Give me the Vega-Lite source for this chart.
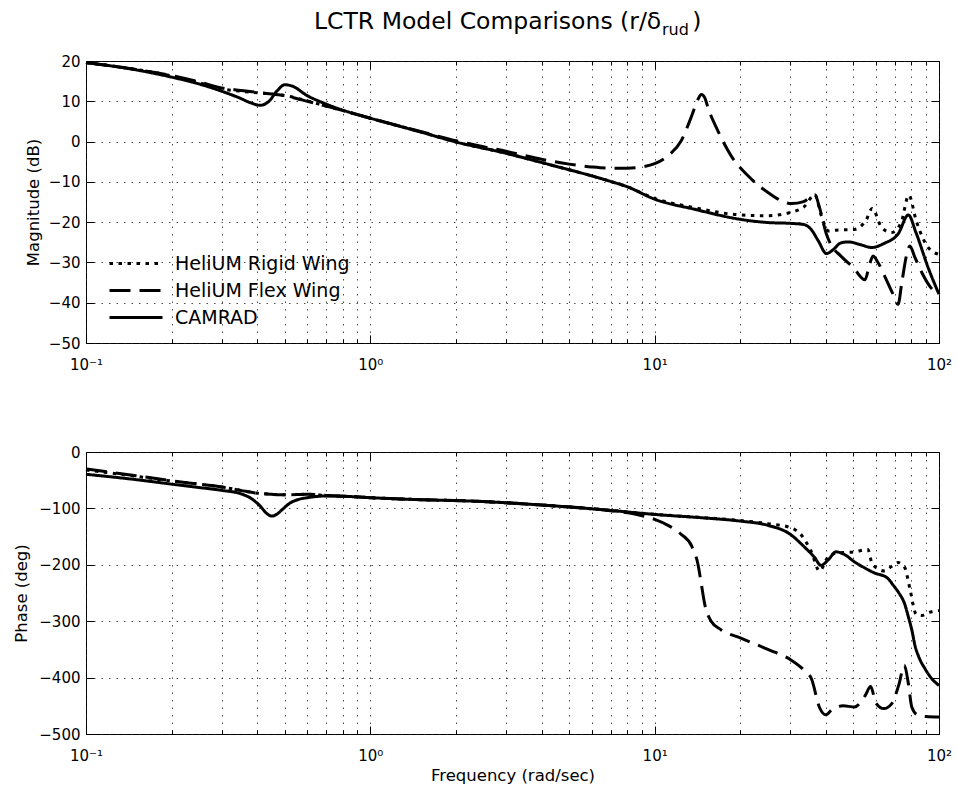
{
  "$schema": "https://vega.github.io/schema/vega-lite/v6.json",
  "padding": {"left": 13, "top": 9, "right": 0, "bottom": 0},
  "background": "white",
  "config": {
    "font": "DejaVu Sans",
    "view": {"stroke": "black", "strokeWidth": 1},
    "axis": {
      "domain": false,
      "labelFont": "DejaVu Sans",
      "labelFontSize": 15,
      "labelColor": "black",
      "titleFont": "DejaVu Sans",
      "titleFontSize": 16.5,
      "titleFontWeight": "normal",
      "titleColor": "black",
      "tickColor": "black",
      "tickWidth": 1,
      "gridColor": "#222222",
      "gridOpacity": 0.8,
      "gridWidth": 1,
      "gridDash": [1.5, 6]
    },
    "title": {"font": "DejaVu Sans", "fontWeight": "normal", "color": "black"}
  },
  "title": {"text": ")", "fontSize": 23.5, "anchor": "start", "frame": "bounds", "dx": 679, "baseline": "alphabetic", "offset": -43},
  "datasets": {
    "mag": [
      {"s": "CAMRAD", "f": 0.1, "v": 19.6}, {"s": "CAMRAD", "f": 0.15, "v": 17.8}, {"s": "CAMRAD", "f": 0.2, "v": 16.0}, {"s": "CAMRAD", "f": 0.25, "v": 14.3}, {"s": "CAMRAD", "f": 0.3, "v": 12.5}, {"s": "CAMRAD", "f": 0.35, "v": 10.7}, {"s": "CAMRAD", "f": 0.38, "v": 9.6}, {"s": "CAMRAD", "f": 0.41, "v": 9.0}, {"s": "CAMRAD", "f": 0.44, "v": 10.0}, {"s": "CAMRAD", "f": 0.47, "v": 12.6}, {"s": "CAMRAD", "f": 0.5, "v": 14.1}, {"s": "CAMRAD", "f": 0.53, "v": 13.8}, {"s": "CAMRAD", "f": 0.6, "v": 11.4}, {"s": "CAMRAD", "f": 0.7, "v": 9.3}, {"s": "CAMRAD", "f": 0.8, "v": 7.8}, {"s": "CAMRAD", "f": 1, "v": 5.8}, {"s": "CAMRAD", "f": 1.5, "v": 2.4}, {"s": "CAMRAD", "f": 2, "v": -0.1}, {"s": "CAMRAD", "f": 3, "v": -2.9}, {"s": "CAMRAD", "f": 4, "v": -5.2}, {"s": "CAMRAD", "f": 5, "v": -7.0}, {"s": "CAMRAD", "f": 6, "v": -8.5}, {"s": "CAMRAD", "f": 7, "v": -9.9}, {"s": "CAMRAD", "f": 8, "v": -11.2}, {"s": "CAMRAD", "f": 10, "v": -14.3}, {"s": "CAMRAD", "f": 13.8, "v": -16.8}, {"s": "CAMRAD", "f": 20, "v": -19.3}, {"s": "CAMRAD", "f": 25, "v": -20.1}, {"s": "CAMRAD", "f": 30, "v": -20.3}, {"s": "CAMRAD", "f": 33.5, "v": -20.6}, {"s": "CAMRAD", "f": 35.5, "v": -21.8}, {"s": "CAMRAD", "f": 37.6, "v": -24.6}, {"s": "CAMRAD", "f": 40.2, "v": -27.8}, {"s": "CAMRAD", "f": 42.5, "v": -26.8}, {"s": "CAMRAD", "f": 45, "v": -25.2}, {"s": "CAMRAD", "f": 48, "v": -24.9}, {"s": "CAMRAD", "f": 53, "v": -25.6}, {"s": "CAMRAD", "f": 58, "v": -26.3}, {"s": "CAMRAD", "f": 64, "v": -25.3}, {"s": "CAMRAD", "f": 72, "v": -22.8}, {"s": "CAMRAD", "f": 78, "v": -18.2}, {"s": "CAMRAD", "f": 83, "v": -22.6}, {"s": "CAMRAD", "f": 91.6, "v": -31.3}, {"s": "CAMRAD", "f": 100, "v": -37.9},
      {"s": "HeliUM Rigid Wing", "f": 0.1, "v": 19.6}, {"s": "HeliUM Rigid Wing", "f": 0.15, "v": 17.9}, {"s": "HeliUM Rigid Wing", "f": 0.2, "v": 16.3}, {"s": "HeliUM Rigid Wing", "f": 0.25, "v": 14.6}, {"s": "HeliUM Rigid Wing", "f": 0.3, "v": 13.1}, {"s": "HeliUM Rigid Wing", "f": 0.35, "v": 12.5}, {"s": "HeliUM Rigid Wing", "f": 0.4, "v": 12.1}, {"s": "HeliUM Rigid Wing", "f": 0.45, "v": 11.8}, {"s": "HeliUM Rigid Wing", "f": 0.5, "v": 11.4}, {"s": "HeliUM Rigid Wing", "f": 0.55, "v": 10.8}, {"s": "HeliUM Rigid Wing", "f": 0.6, "v": 10.1}, {"s": "HeliUM Rigid Wing", "f": 0.7, "v": 8.8}, {"s": "HeliUM Rigid Wing", "f": 0.8, "v": 7.7}, {"s": "HeliUM Rigid Wing", "f": 1, "v": 5.8}, {"s": "HeliUM Rigid Wing", "f": 1.5, "v": 2.4}, {"s": "HeliUM Rigid Wing", "f": 2, "v": -0.1}, {"s": "HeliUM Rigid Wing", "f": 3, "v": -2.9}, {"s": "HeliUM Rigid Wing", "f": 4, "v": -5.2}, {"s": "HeliUM Rigid Wing", "f": 5, "v": -7.0}, {"s": "HeliUM Rigid Wing", "f": 6, "v": -8.5}, {"s": "HeliUM Rigid Wing", "f": 7, "v": -9.9}, {"s": "HeliUM Rigid Wing", "f": 8, "v": -11.2}, {"s": "HeliUM Rigid Wing", "f": 10, "v": -14.1}, {"s": "HeliUM Rigid Wing", "f": 13.8, "v": -16.4}, {"s": "HeliUM Rigid Wing", "f": 20, "v": -18.2}, {"s": "HeliUM Rigid Wing", "f": 25, "v": -18.4}, {"s": "HeliUM Rigid Wing", "f": 30, "v": -17.6}, {"s": "HeliUM Rigid Wing", "f": 33.5, "v": -16.2}, {"s": "HeliUM Rigid Wing", "f": 36.6, "v": -13.2}, {"s": "HeliUM Rigid Wing", "f": 38.4, "v": -18.0}, {"s": "HeliUM Rigid Wing", "f": 40.9, "v": -22.2}, {"s": "HeliUM Rigid Wing", "f": 43.4, "v": -22.0}, {"s": "HeliUM Rigid Wing", "f": 50.5, "v": -21.8}, {"s": "HeliUM Rigid Wing", "f": 55.6, "v": -19.3}, {"s": "HeliUM Rigid Wing", "f": 58.2, "v": -16.6}, {"s": "HeliUM Rigid Wing", "f": 62.8, "v": -21.3}, {"s": "HeliUM Rigid Wing", "f": 68, "v": -22.6}, {"s": "HeliUM Rigid Wing", "f": 73.6, "v": -20.1}, {"s": "HeliUM Rigid Wing", "f": 78.3, "v": -13.3}, {"s": "HeliUM Rigid Wing", "f": 83.2, "v": -19.7}, {"s": "HeliUM Rigid Wing", "f": 91.6, "v": -26.3}, {"s": "HeliUM Rigid Wing", "f": 100, "v": -28.0},
      {"s": "HeliUM Flex Wing", "f": 0.1, "v": 19.6}, {"s": "HeliUM Flex Wing", "f": 0.15, "v": 17.9}, {"s": "HeliUM Flex Wing", "f": 0.2, "v": 16.4}, {"s": "HeliUM Flex Wing", "f": 0.25, "v": 14.8}, {"s": "HeliUM Flex Wing", "f": 0.3, "v": 13.3}, {"s": "HeliUM Flex Wing", "f": 0.35, "v": 12.7}, {"s": "HeliUM Flex Wing", "f": 0.4, "v": 12.2}, {"s": "HeliUM Flex Wing", "f": 0.45, "v": 11.8}, {"s": "HeliUM Flex Wing", "f": 0.5, "v": 11.4}, {"s": "HeliUM Flex Wing", "f": 0.55, "v": 10.7}, {"s": "HeliUM Flex Wing", "f": 0.6, "v": 10.0}, {"s": "HeliUM Flex Wing", "f": 0.7, "v": 8.8}, {"s": "HeliUM Flex Wing", "f": 0.8, "v": 7.7}, {"s": "HeliUM Flex Wing", "f": 1, "v": 5.8}, {"s": "HeliUM Flex Wing", "f": 1.5, "v": 2.5}, {"s": "HeliUM Flex Wing", "f": 2, "v": 0.2}, {"s": "HeliUM Flex Wing", "f": 2.5, "v": -1.3}, {"s": "HeliUM Flex Wing", "f": 3, "v": -2.4}, {"s": "HeliUM Flex Wing", "f": 4, "v": -4.4}, {"s": "HeliUM Flex Wing", "f": 5, "v": -5.6}, {"s": "HeliUM Flex Wing", "f": 6, "v": -6.3}, {"s": "HeliUM Flex Wing", "f": 7, "v": -6.6}, {"s": "HeliUM Flex Wing", "f": 8, "v": -6.6}, {"s": "HeliUM Flex Wing", "f": 9, "v": -6.3}, {"s": "HeliUM Flex Wing", "f": 10, "v": -5.5}, {"s": "HeliUM Flex Wing", "f": 11.1, "v": -3.6}, {"s": "HeliUM Flex Wing", "f": 12.4, "v": 0.2}, {"s": "HeliUM Flex Wing", "f": 13.5, "v": 6.4}, {"s": "HeliUM Flex Wing", "f": 14.2, "v": 10.5}, {"s": "HeliUM Flex Wing", "f": 14.6, "v": 11.7}, {"s": "HeliUM Flex Wing", "f": 15.0, "v": 10.9}, {"s": "HeliUM Flex Wing", "f": 15.4, "v": 8.4}, {"s": "HeliUM Flex Wing", "f": 16.7, "v": 2.6}, {"s": "HeliUM Flex Wing", "f": 18.6, "v": -3.6}, {"s": "HeliUM Flex Wing", "f": 21.3, "v": -8.5}, {"s": "HeliUM Flex Wing", "f": 25.1, "v": -12.7}, {"s": "HeliUM Flex Wing", "f": 30.3, "v": -15.4}, {"s": "HeliUM Flex Wing", "f": 33.4, "v": -14.9}, {"s": "HeliUM Flex Wing", "f": 36.6, "v": -13.2}, {"s": "HeliUM Flex Wing", "f": 38, "v": -16.4}, {"s": "HeliUM Flex Wing", "f": 40.2, "v": -23.0}, {"s": "HeliUM Flex Wing", "f": 42, "v": -26.0}, {"s": "HeliUM Flex Wing", "f": 45, "v": -28.3}, {"s": "HeliUM Flex Wing", "f": 50, "v": -31.3}, {"s": "HeliUM Flex Wing", "f": 54.9, "v": -34.3}, {"s": "HeliUM Flex Wing", "f": 57, "v": -30.5}, {"s": "HeliUM Flex Wing", "f": 58.6, "v": -28.4}, {"s": "HeliUM Flex Wing", "f": 61, "v": -30.0}, {"s": "HeliUM Flex Wing", "f": 65, "v": -34.0}, {"s": "HeliUM Flex Wing", "f": 68.5, "v": -37.5}, {"s": "HeliUM Flex Wing", "f": 71.8, "v": -40.4}, {"s": "HeliUM Flex Wing", "f": 74, "v": -35.0}, {"s": "HeliUM Flex Wing", "f": 77, "v": -28.0}, {"s": "HeliUM Flex Wing", "f": 79, "v": -25.9}, {"s": "HeliUM Flex Wing", "f": 82, "v": -28.5}, {"s": "HeliUM Flex Wing", "f": 87, "v": -32.5}, {"s": "HeliUM Flex Wing", "f": 93, "v": -36.0}, {"s": "HeliUM Flex Wing", "f": 100, "v": -37.9}
    ],
    "phase": [
      {"s": "CAMRAD", "f": 0.1, "v": -39.5}, {"s": "CAMRAD", "f": 0.15, "v": -49}, {"s": "CAMRAD", "f": 0.2, "v": -57}, {"s": "CAMRAD", "f": 0.25, "v": -63}, {"s": "CAMRAD", "f": 0.3, "v": -68}, {"s": "CAMRAD", "f": 0.35, "v": -74}, {"s": "CAMRAD", "f": 0.38, "v": -82}, {"s": "CAMRAD", "f": 0.41, "v": -96}, {"s": "CAMRAD", "f": 0.43, "v": -108}, {"s": "CAMRAD", "f": 0.45, "v": -113.6}, {"s": "CAMRAD", "f": 0.47, "v": -110}, {"s": "CAMRAD", "f": 0.49, "v": -102}, {"s": "CAMRAD", "f": 0.52, "v": -91}, {"s": "CAMRAD", "f": 0.56, "v": -84}, {"s": "CAMRAD", "f": 0.6, "v": -81}, {"s": "CAMRAD", "f": 0.7, "v": -78}, {"s": "CAMRAD", "f": 0.85, "v": -79}, {"s": "CAMRAD", "f": 1, "v": -81}, {"s": "CAMRAD", "f": 1.5, "v": -84.5}, {"s": "CAMRAD", "f": 2.4, "v": -87.5}, {"s": "CAMRAD", "f": 4, "v": -94}, {"s": "CAMRAD", "f": 7, "v": -103.6}, {"s": "CAMRAD", "f": 10, "v": -110.7}, {"s": "CAMRAD", "f": 15, "v": -117}, {"s": "CAMRAD", "f": 20, "v": -122.5}, {"s": "CAMRAD", "f": 25, "v": -130}, {"s": "CAMRAD", "f": 30, "v": -146}, {"s": "CAMRAD", "f": 33.4, "v": -167}, {"s": "CAMRAD", "f": 36.6, "v": -187.6}, {"s": "CAMRAD", "f": 38.4, "v": -201}, {"s": "CAMRAD", "f": 40.9, "v": -190.5}, {"s": "CAMRAD", "f": 43.4, "v": -177}, {"s": "CAMRAD", "f": 46.5, "v": -181.7}, {"s": "CAMRAD", "f": 50.5, "v": -195}, {"s": "CAMRAD", "f": 55, "v": -206}, {"s": "CAMRAD", "f": 59, "v": -214}, {"s": "CAMRAD", "f": 65.7, "v": -223}, {"s": "CAMRAD", "f": 69, "v": -236}, {"s": "CAMRAD", "f": 72.3, "v": -250}, {"s": "CAMRAD", "f": 75.8, "v": -270}, {"s": "CAMRAD", "f": 78, "v": -292}, {"s": "CAMRAD", "f": 80.2, "v": -315}, {"s": "CAMRAD", "f": 82.5, "v": -345}, {"s": "CAMRAD", "f": 84.7, "v": -362}, {"s": "CAMRAD", "f": 89.2, "v": -384}, {"s": "CAMRAD", "f": 94, "v": -401}, {"s": "CAMRAD", "f": 100, "v": -414},
      {"s": "HeliUM Rigid Wing", "f": 0.1, "v": -32}, {"s": "HeliUM Rigid Wing", "f": 0.15, "v": -43}, {"s": "HeliUM Rigid Wing", "f": 0.2, "v": -51.5}, {"s": "HeliUM Rigid Wing", "f": 0.25, "v": -57}, {"s": "HeliUM Rigid Wing", "f": 0.3, "v": -62}, {"s": "HeliUM Rigid Wing", "f": 0.35, "v": -68}, {"s": "HeliUM Rigid Wing", "f": 0.4, "v": -73}, {"s": "HeliUM Rigid Wing", "f": 0.45, "v": -75}, {"s": "HeliUM Rigid Wing", "f": 0.5, "v": -76}, {"s": "HeliUM Rigid Wing", "f": 0.6, "v": -75}, {"s": "HeliUM Rigid Wing", "f": 0.7, "v": -77}, {"s": "HeliUM Rigid Wing", "f": 0.85, "v": -79}, {"s": "HeliUM Rigid Wing", "f": 1, "v": -81}, {"s": "HeliUM Rigid Wing", "f": 1.5, "v": -84.5}, {"s": "HeliUM Rigid Wing", "f": 2.4, "v": -87.5}, {"s": "HeliUM Rigid Wing", "f": 4, "v": -94}, {"s": "HeliUM Rigid Wing", "f": 7, "v": -103.6}, {"s": "HeliUM Rigid Wing", "f": 10, "v": -110.5}, {"s": "HeliUM Rigid Wing", "f": 15, "v": -116.5}, {"s": "HeliUM Rigid Wing", "f": 20, "v": -121.5}, {"s": "HeliUM Rigid Wing", "f": 25, "v": -127}, {"s": "HeliUM Rigid Wing", "f": 30, "v": -134}, {"s": "HeliUM Rigid Wing", "f": 33, "v": -149}, {"s": "HeliUM Rigid Wing", "f": 35.5, "v": -176}, {"s": "HeliUM Rigid Wing", "f": 38, "v": -211}, {"s": "HeliUM Rigid Wing", "f": 41, "v": -184}, {"s": "HeliUM Rigid Wing", "f": 44, "v": -179}, {"s": "HeliUM Rigid Wing", "f": 50.5, "v": -177}, {"s": "HeliUM Rigid Wing", "f": 56.2, "v": -172.8}, {"s": "HeliUM Rigid Wing", "f": 58, "v": -196}, {"s": "HeliUM Rigid Wing", "f": 61, "v": -207}, {"s": "HeliUM Rigid Wing", "f": 64.4, "v": -211}, {"s": "HeliUM Rigid Wing", "f": 68, "v": -203}, {"s": "HeliUM Rigid Wing", "f": 71.8, "v": -196}, {"s": "HeliUM Rigid Wing", "f": 75.8, "v": -205}, {"s": "HeliUM Rigid Wing", "f": 78.9, "v": -241}, {"s": "HeliUM Rigid Wing", "f": 83.2, "v": -288}, {"s": "HeliUM Rigid Wing", "f": 87, "v": -290}, {"s": "HeliUM Rigid Wing", "f": 91.6, "v": -285}, {"s": "HeliUM Rigid Wing", "f": 100, "v": -281},
      {"s": "HeliUM Flex Wing", "f": 0.1, "v": -30}, {"s": "HeliUM Flex Wing", "f": 0.15, "v": -42}, {"s": "HeliUM Flex Wing", "f": 0.2, "v": -51}, {"s": "HeliUM Flex Wing", "f": 0.25, "v": -57}, {"s": "HeliUM Flex Wing", "f": 0.3, "v": -62}, {"s": "HeliUM Flex Wing", "f": 0.35, "v": -68}, {"s": "HeliUM Flex Wing", "f": 0.4, "v": -73}, {"s": "HeliUM Flex Wing", "f": 0.45, "v": -75}, {"s": "HeliUM Flex Wing", "f": 0.5, "v": -76}, {"s": "HeliUM Flex Wing", "f": 0.6, "v": -75}, {"s": "HeliUM Flex Wing", "f": 0.7, "v": -77}, {"s": "HeliUM Flex Wing", "f": 0.85, "v": -79}, {"s": "HeliUM Flex Wing", "f": 1, "v": -81}, {"s": "HeliUM Flex Wing", "f": 1.5, "v": -84.5}, {"s": "HeliUM Flex Wing", "f": 2.4, "v": -87.5}, {"s": "HeliUM Flex Wing", "f": 4, "v": -94}, {"s": "HeliUM Flex Wing", "f": 7, "v": -104}, {"s": "HeliUM Flex Wing", "f": 8.5, "v": -110}, {"s": "HeliUM Flex Wing", "f": 10, "v": -119.5}, {"s": "HeliUM Flex Wing", "f": 11.1, "v": -129.6}, {"s": "HeliUM Flex Wing", "f": 12.4, "v": -146}, {"s": "HeliUM Flex Wing", "f": 13.5, "v": -167}, {"s": "HeliUM Flex Wing", "f": 14.2, "v": -199}, {"s": "HeliUM Flex Wing", "f": 14.6, "v": -235}, {"s": "HeliUM Flex Wing", "f": 15, "v": -270}, {"s": "HeliUM Flex Wing", "f": 15.8, "v": -300}, {"s": "HeliUM Flex Wing", "f": 17.1, "v": -315}, {"s": "HeliUM Flex Wing", "f": 20, "v": -329.6}, {"s": "HeliUM Flex Wing", "f": 25, "v": -350}, {"s": "HeliUM Flex Wing", "f": 30, "v": -368}, {"s": "HeliUM Flex Wing", "f": 33.4, "v": -386}, {"s": "HeliUM Flex Wing", "f": 35.6, "v": -402}, {"s": "HeliUM Flex Wing", "f": 38, "v": -453}, {"s": "HeliUM Flex Wing", "f": 40, "v": -466}, {"s": "HeliUM Flex Wing", "f": 42, "v": -457}, {"s": "HeliUM Flex Wing", "f": 46, "v": -450}, {"s": "HeliUM Flex Wing", "f": 50.5, "v": -452}, {"s": "HeliUM Flex Wing", "f": 55, "v": -432}, {"s": "HeliUM Flex Wing", "f": 57.5, "v": -416}, {"s": "HeliUM Flex Wing", "f": 60, "v": -445}, {"s": "HeliUM Flex Wing", "f": 64, "v": -455}, {"s": "HeliUM Flex Wing", "f": 68, "v": -447}, {"s": "HeliUM Flex Wing", "f": 72.3, "v": -412}, {"s": "HeliUM Flex Wing", "f": 75.5, "v": -378}, {"s": "HeliUM Flex Wing", "f": 78, "v": -410}, {"s": "HeliUM Flex Wing", "f": 80.2, "v": -452}, {"s": "HeliUM Flex Wing", "f": 84, "v": -466}, {"s": "HeliUM Flex Wing", "f": 90, "v": -469}, {"s": "HeliUM Flex Wing", "f": 100, "v": -470}
    ]
  },
  "bounds": "flush",
  "spacing": 109,
  "resolve": {"legend": {"strokeDash": "independent"}},
  "vconcat": [
    {
      "width": 853,
      "height": 282,
      "title": {"text": "LCTR Model Comparisons (r/δ", "fontSize": 23.5, "anchor": "start", "frame": "group", "dx": 228, "baseline": "alphabetic", "offset": 2},
      "data": {"name": "mag"},
      "resolve": {"axis": {"x": "independent", "y": "independent"}},
      "layer": [
        {
          "mark": {"type": "line", "color": "black", "strokeWidth": 3, "strokeCap": "butt", "interpolate": "monotone"},
          "encoding": {
            "x": {"field": "f", "type": "quantitative", "scale": {"type": "log", "domain": [0.1, 100], "nice": false},
                  "axis": {"orient": "bottom", "values": [0.1, 1, 10, 100], "tickSize": -8, "labelPadding": 22, "labelFlush": false, "grid": false, "title": null,
                           "labelExpr": "datum.value < 0.5 ? '10⁻¹' : datum.value < 5 ? '10⁰' : datum.value < 50 ? '10¹' : '10²'"}},
            "y": {"field": "v", "type": "quantitative", "scale": {"domain": [-50, 20], "nice": false, "zero": false},
                  "axis": {"orient": "left", "values": [-50, -40, -30, -20, -10, 0, 10, 20], "tickSize": -8, "labelPadding": 14, "grid": true, "title": "Magnitude (dB)", "titlePadding": 7}},
            "strokeDash": {"field": "s", "type": "nominal",
                           "scale": {"domain": ["HeliUM Rigid Wing", "HeliUM Flex Wing", "CAMRAD"], "range": [[3.5, 5.5], [21, 9], [1, 0]]},
                           "legend": {"orient": "none", "legendX": 40.5, "legendY": 193, "title": null, "padding": 0,
                                      "symbolType": "M-3.533,0L3.533,0", "symbolSize": 225, "symbolStrokeWidth": 3, "symbolStrokeColor": "black",
                                      "labelFont": "DejaVu Sans", "labelFontSize": 19, "labelColor": "black", "labelLimit": 400, "labelOffset": 29.5, "rowPadding": 7}}
          }
        },
        {
          "mark": {"type": "line", "opacity": 0},
          "encoding": {
            "x": {"field": "f", "type": "quantitative", "scale": {"type": "log", "domain": [0.1, 100], "nice": false},
                  "axis": {"orient": "bottom", "values": [0.1, 0.2, 0.3, 0.4, 0.5, 0.6, 0.7, 0.8, 0.9, 1, 2, 3, 4, 5, 6, 7, 8, 9, 10, 20, 30, 40, 50, 60, 70, 80, 90, 100], "tickSize": -4, "labels": false, "grid": true, "title": null}},
            "y": {"field": "v", "type": "quantitative", "scale": {"domain": [-50, 20], "nice": false, "zero": false},
                  "axis": {"orient": "right", "values": [-50, -40, -30, -20, -10, 0, 10, 20], "tickSize": -8, "labels": false, "grid": false, "title": null}}
          }
        },
        {
          "mark": {"type": "line", "opacity": 0},
          "encoding": {
            "x": {"field": "f", "type": "quantitative", "scale": {"type": "log", "domain": [0.1, 100], "nice": false},
                  "axis": {"orient": "top", "values": [0.1, 1, 10, 100], "tickSize": -8, "labels": false, "grid": false, "title": null}},
            "y": {"field": "v", "type": "quantitative", "scale": {"domain": [-50, 20], "nice": false, "zero": false}, "axis": null}
          }
        },
        {
          "mark": {"type": "line", "opacity": 0},
          "encoding": {
            "x": {"field": "f", "type": "quantitative", "scale": {"type": "log", "domain": [0.1, 100], "nice": false},
                  "axis": {"orient": "top", "values": [0.2, 0.3, 0.4, 0.5, 0.6, 0.7, 0.8, 0.9, 2, 3, 4, 5, 6, 7, 8, 9, 20, 30, 40, 50, 60, 70, 80, 90], "tickSize": -4, "labels": false, "grid": false, "title": null}},
            "y": {"field": "v", "type": "quantitative", "scale": {"domain": [-50, 20], "nice": false, "zero": false}, "axis": null}
          }
        }
      ]
    },
    {
      "width": 853,
      "height": 282,
      "title": {"text": "rud", "fontSize": 16, "anchor": "start", "frame": "group", "dx": 576, "baseline": "alphabetic", "offset": 394},
      "data": {"name": "phase"},
      "resolve": {"axis": {"x": "independent", "y": "independent"}},
      "layer": [
        {
          "mark": {"type": "line", "color": "black", "strokeWidth": 3, "strokeCap": "butt", "interpolate": "monotone"},
          "encoding": {
            "x": {"field": "f", "type": "quantitative", "scale": {"type": "log", "domain": [0.1, 100], "nice": false},
                  "axis": {"orient": "bottom", "values": [0.1, 1, 10, 100], "tickSize": -8, "labelPadding": 22, "labelFlush": false, "grid": false, "title": "Frequency (rad/sec)", "titlePadding": 4,
                           "labelExpr": "datum.value < 0.5 ? '10⁻¹' : datum.value < 5 ? '10⁰' : datum.value < 50 ? '10¹' : '10²'"}},
            "y": {"field": "v", "type": "quantitative", "scale": {"domain": [-500, 0], "nice": false, "zero": false},
                  "axis": {"orient": "left", "values": [-500, -400, -300, -200, -100, 0], "tickSize": -8, "labelPadding": 14, "grid": true, "title": "Phase (deg)", "titlePadding": 9}},
            "strokeDash": {"field": "s", "type": "nominal",
                           "scale": {"domain": ["HeliUM Rigid Wing", "HeliUM Flex Wing", "CAMRAD"], "range": [[3.5, 5.5], [21, 9], [1, 0]]},
                           "legend": null}
          }
        },
        {
          "mark": {"type": "line", "opacity": 0},
          "encoding": {
            "x": {"field": "f", "type": "quantitative", "scale": {"type": "log", "domain": [0.1, 100], "nice": false},
                  "axis": {"orient": "bottom", "values": [0.1, 0.2, 0.3, 0.4, 0.5, 0.6, 0.7, 0.8, 0.9, 1, 2, 3, 4, 5, 6, 7, 8, 9, 10, 20, 30, 40, 50, 60, 70, 80, 90, 100], "tickSize": -4, "labels": false, "grid": true, "title": null}},
            "y": {"field": "v", "type": "quantitative", "scale": {"domain": [-500, 0], "nice": false, "zero": false},
                  "axis": {"orient": "right", "values": [-500, -400, -300, -200, -100, 0], "tickSize": -8, "labels": false, "grid": false, "title": null}}
          }
        },
        {
          "mark": {"type": "line", "opacity": 0},
          "encoding": {
            "x": {"field": "f", "type": "quantitative", "scale": {"type": "log", "domain": [0.1, 100], "nice": false},
                  "axis": {"orient": "top", "values": [0.1, 1, 10, 100], "tickSize": -8, "labels": false, "grid": false, "title": null}},
            "y": {"field": "v", "type": "quantitative", "scale": {"domain": [-500, 0], "nice": false, "zero": false}, "axis": null}
          }
        },
        {
          "mark": {"type": "line", "opacity": 0},
          "encoding": {
            "x": {"field": "f", "type": "quantitative", "scale": {"type": "log", "domain": [0.1, 100], "nice": false},
                  "axis": {"orient": "top", "values": [0.2, 0.3, 0.4, 0.5, 0.6, 0.7, 0.8, 0.9, 2, 3, 4, 5, 6, 7, 8, 9, 20, 30, 40, 50, 60, 70, 80, 90], "tickSize": -4, "labels": false, "grid": false, "title": null}},
            "y": {"field": "v", "type": "quantitative", "scale": {"domain": [-500, 0], "nice": false, "zero": false}, "axis": null}
          }
        }
      ]
    }
  ]
}
